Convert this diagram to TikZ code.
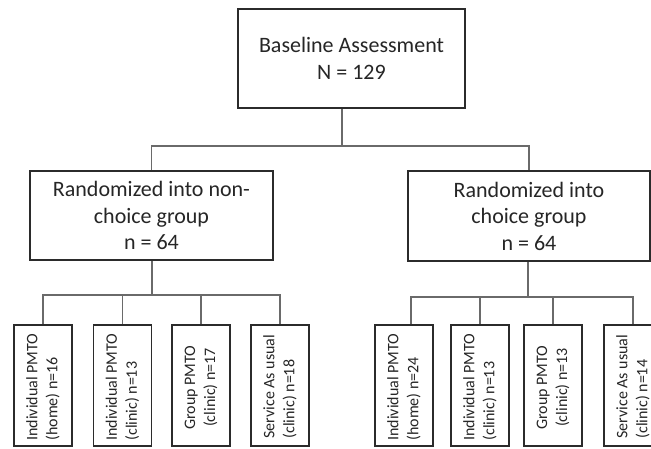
\documentclass[tikz,border=0pt]{standalone}
\usepackage{fontspec}
\setmainfont{Carlito}
\definecolor{boxline}{HTML}{2B2B2B}
\definecolor{connline}{HTML}{6A6A6A}
\definecolor{txt}{HTML}{262626}
\begin{document}
\begin{tikzpicture}[x=1pt,y=1pt,
  box/.style={draw=boxline,line width=1.6pt,text=txt,inner sep=0pt},
  bigbox/.style={box,align=center,font=\fontsize{22}{26.5}\selectfont},
  leafbox/.style={box,minimum width=58pt,minimum height=121pt},
  leaftext/.style={rotate=90,inner sep=0pt,text=txt,font=\fontsize{16}{20}\selectfont},
  conn/.style={draw=connline,line width=1.1pt}]
\clip (0,0) rectangle (651,-448);
\fill[white] (0,0) rectangle (651,-448);
% top
\node[bigbox,minimum width=227pt,minimum height=99pt] (top) at (351.5,-58.5) {Baseline Assessment\\N = 129};
% groups
\node[bigbox,minimum width=243pt,minimum height=89pt] (L) at (151.5,-215.5) {Randomized into non-\\choice group\\n = 64};
\node[bigbox,minimum width=242pt,minimum height=90pt] (R) at (529,-216) {Randomized into\\choice group\\n = 64};
% leaves left
\node[leafbox] (l1) at (43,-385.5) {};
\node[leafbox] (l2) at (122.5,-385.5) {};
\node[leafbox] (l3) at (201,-385.5) {};
\node[leafbox] (l4) at (280,-385.5) {};
\node[leaftext,anchor=west,align=left] (t1) at ([yshift=6pt]l1.south) {Individual PMTO\\(home) n=16};
\node[leaftext,anchor=west,align=left] (t2) at ([yshift=6pt]l2.south) {Individual PMTO\\(clinic) n=13};
\node[leaftext,align=center] (t3) at ([yshift=-2pt]l3.center) {Group PMTO\\(clinic) n=17};
\node[leaftext,anchor=west,align=left] (t4) at ([yshift=8pt]l4.south) {Service As usual\\(clinic) n=18};
% leaves right
\node[leafbox] (r1) at (404,-385.5) {};
\node[leafbox] (r2) at (480,-385.5) {};
\node[leafbox] (r3) at (553,-385.5) {};
\node[leafbox] (r4) at (633,-385.5) {};
\node[leaftext,anchor=west,align=left] (u1) at ([yshift=6pt]r1.south) {Individual PMTO\\(home) n=24};
\node[leaftext,anchor=west,align=left] (u2) at ([yshift=6pt]r2.south) {Individual PMTO\\(clinic) n=13};
\node[leaftext,align=center] (u3) at ([yshift=-2pt]r3.center) {Group PMTO\\(clinic) n=13};
\node[leaftext,anchor=west,align=left] (u4) at ([yshift=8pt]r4.south) {Service As usual\\(clinic) n=14};
% connectors top
\coordinate (b0) at (342,-146);
\draw[conn] (top.south -| b0) -- (b0);
\draw[conn] (L.north) |- (b0) -| (R.north);
% left bus
\coordinate (lb) at (152,-295);
\draw[conn] (L.south -| lb) -- (lb);
\draw[conn] (l1.north) |- (lb) -| (l4.north);
\draw[conn] (l2.north) -- (l2.north |- lb);
\draw[conn] (l3.north) -- (l3.north |- lb);
% right bus
\coordinate (rb) at (528,-297);
\coordinate (r1s) at ([xshift=7pt]r1.north);
\draw[conn] (R.south -| rb) -- (rb);
\draw[conn] (r1s) |- (rb) -| (r4.north);
\draw[conn] (r2.north) -- (r2.north |- rb);
\draw[conn] (r3.north) -- (r3.north |- rb);
\end{tikzpicture}
\end{document}
